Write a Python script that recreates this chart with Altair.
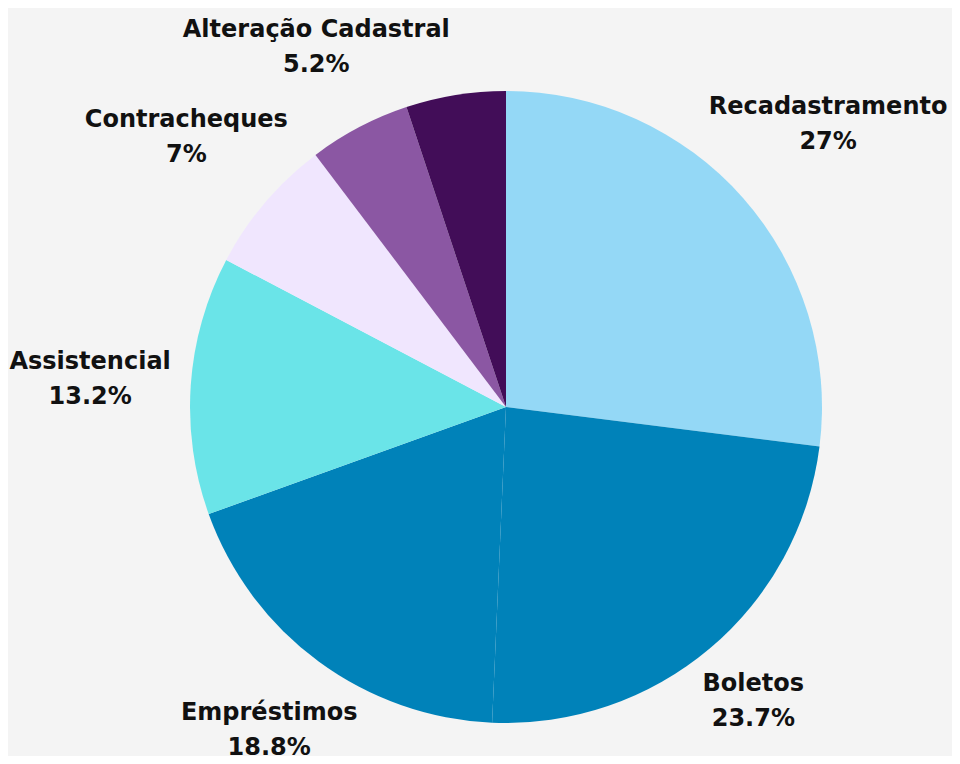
import altair as alt
import pandas as pd

categories = ["Recadastramento", "Boletos", "Empréstimos", "Assistencial",
              "Contracheques", "Alteração Cadastral", "Outros"]
values = [27, 23.7, 18.8, 13.2, 7, 5.2, 5.1]
colors = ["#94d8f6", "#0082b9", "#0082b9", "#6ae4e8", "#f0e6fe", "#8b57a3", "#420d58"]
labelled = [True, True, True, True, True, True, False]

df = pd.DataFrame({
    "category": categories,
    "value": values,
    "order": list(range(len(categories))),
    "labelled": labelled,
})

CX, CY = 498, 399
R = 316
CHAR_W = 14.5
BOX_H = 60
TOP_LIMIT = 38  # keep the first label line inside the chart

base = alt.Chart(df)
color = alt.Color("category:N", scale=alt.Scale(domain=categories, range=colors), legend=None)

pie = base.mark_arc(outerRadius=R).encode(
    theta=alt.Theta("value:Q", stack=True),
    order=alt.Order("order:Q"),
    color=color,
    x=alt.value(CX),
    y=alt.value(CY),
)

labels = base.transform_joinaggregate(
    total="sum(value)"
).transform_window(
    cum="sum(value)", sort=[alt.SortField("order")]
).transform_calculate(
    mid="(datum.cum - datum.value / 2) / datum.total * 2 * PI",
    w=f"length(datum.category) * {CHAR_W}",
).transform_calculate(
    lr0=f"{R + 12} + abs(sin(datum.mid)) * datum.w / 2 + abs(cos(datum.mid)) * {BOX_H} / 2",
).transform_calculate(
    lr=f"cos(datum.mid) > 0 ? min(datum.lr0, {CY - TOP_LIMIT} / cos(datum.mid)) : datum.lr0",
    txt="[datum.category, toString(datum.value) + '%']",
).transform_filter(
    "datum.labelled"
).mark_text(
    font="DejaVu Sans", fontWeight="bold", fontSize=24, lineHeight=35,
    align="center", baseline="middle", color="#111111", dy=-16,
).encode(
    theta=alt.Theta("mid:Q", scale=None, stack=False),
    radius=alt.Radius("lr:Q", scale=None),
    text=alt.Text("txt:N"),
    x=alt.value(CX),
    y=alt.value(CY),
)

chart = alt.layer(pie, labels).properties(
    width=944, height=748,
    autosize=alt.AutoSizeParams(type="none"),
    padding=0,
    background="#f4f4f4",
).configure_view(stroke=None, strokeWidth=0)

chart.save("out.html", embed_options={"renderer": "svg", "actions": False})
